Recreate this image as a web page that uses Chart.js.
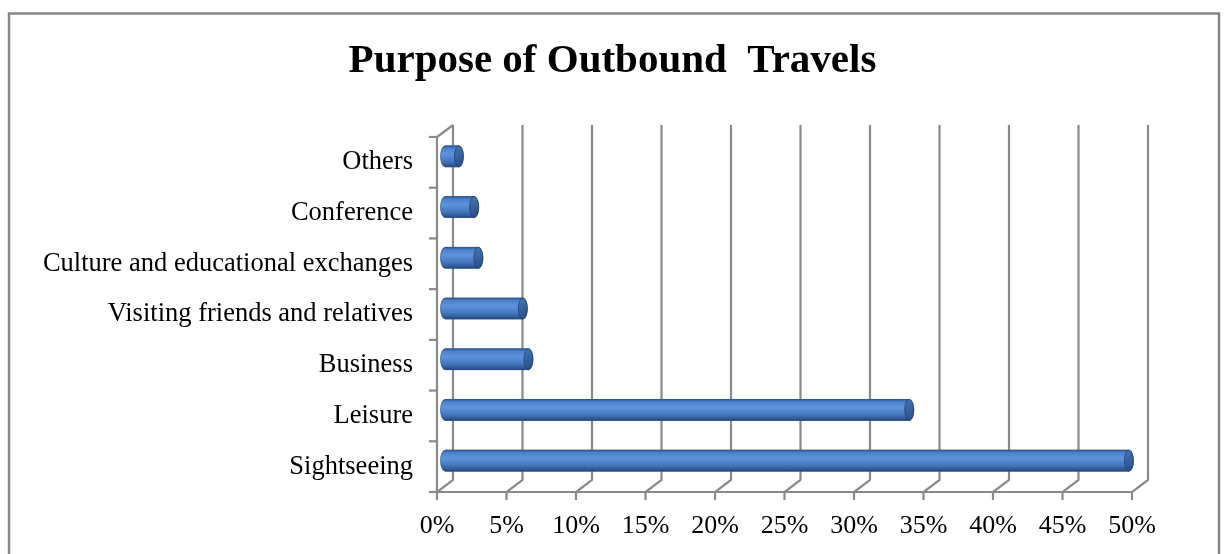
<!DOCTYPE html>
<html>
<head>
<meta charset="utf-8">
<title>Purpose of Outbound Travels</title>
<script src="https://cdn.jsdelivr.net/npm/chart.js@4.4.0/dist/chart.umd.min.js"></script>
<style>
  html, body { margin: 0; padding: 0; background: #fff; overflow: hidden; }
  #wrap { position: relative; width: 1225px; height: 554px; }
</style>
</head>
<body>
<div id="wrap"><canvas id="travelChart"></canvas></div>
<script>
// purposes, top to bottom, and their share of outbound trips (%)
const purposes = [
  "Others",
  "Conference",
  "Culture and educational exchanges",
  "Visiting friends and relatives",
  "Business",
  "Leisure",
  "Sightseeing"
];
const shares = [1.0, 2.1, 2.4, 5.6, 6.0, 33.4, 49.2];
const axisMax = 50;
const axisStep = 5;
const chartTitle = "Purpose of Outbound  Travels";

// half of the 3D depth: bars sit mid-depth, walls behind, axes in front
const DX = 8;
const DY = 6;
const LINE = "#8a8a8a";
const SERIF = "'Liberation Serif', 'Times New Roman', serif";

// white page, grey outer frame and the title centred on the whole frame
const framePlugin = {
  id: "frame",
  beforeDraw(chart) {
    const ctx = chart.ctx;
    ctx.save();
    ctx.fillStyle = "#fff";
    ctx.fillRect(0, 0, chart.width, chart.height);
    ctx.strokeStyle = "#868686";
    ctx.lineWidth = 2.5;
    ctx.strokeRect(9, 13.5, 1210, 600);
    ctx.fillStyle = "#000";
    ctx.font = "bold 41px " + SERIF;
    ctx.textAlign = "center";
    ctx.textBaseline = "middle";
    ctx.fillText(chartTitle, chart.width / 2, 61);
    ctx.restore();
  }
};

// back wall gridlines, floor edges and the front axes
const wallsPlugin = {
  id: "walls",
  beforeDatasetsDraw(chart) {
    const { ctx, chartArea: a, scales } = chart;
    const x = scales.x;
    const backTop = a.top - DY, backBottom = a.bottom - DY;
    const frontBottom = a.bottom + DY;
    ctx.save();
    ctx.strokeStyle = LINE;
    ctx.lineWidth = 2.2;
    ctx.lineCap = "butt";

    x.ticks.forEach(t => {
      const px = x.getPixelForValue(t.value);
      ctx.beginPath();
      ctx.moveTo(px + DX, backTop);
      ctx.lineTo(px + DX, backBottom);
      ctx.lineTo(px - DX, frontBottom);
      ctx.lineTo(px - DX, frontBottom + 8);
      ctx.stroke();
    });

    // front floor edge
    const x0 = x.getPixelForValue(0) - DX;
    const x1 = x.getPixelForValue(axisMax) - DX;
    ctx.beginPath();
    ctx.moveTo(x0, frontBottom);
    ctx.lineTo(x1, frontBottom);
    ctx.stroke();

    // left side edge with category ticks
    ctx.beginPath();
    ctx.moveTo(x0 + 2 * DX, a.top - DY);
    ctx.lineTo(x0, a.top + DY);
    ctx.lineTo(x0, frontBottom);
    ctx.stroke();
    const band = (a.bottom - a.top) / purposes.length;
    for (let i = 0; i <= purposes.length; i++) {
      const ty = a.top + DY + i * band;
      ctx.beginPath();
      ctx.moveTo(x0 - 8, ty);
      ctx.lineTo(x0, ty);
      ctx.stroke();
    }
    ctx.restore();
  },
  afterDatasetsDraw(chart) {
    const ctx = chart.ctx;
    const meta = chart.getDatasetMeta(0);
    meta.data.forEach(bar => {
      drawCylinder(ctx, bar.base, bar.x, bar.y, bar.height);
    });
  }
};

function drawCylinder(ctx, xs, xe, yc, h) {
  const ry = h / 2, rx = 4.5;
  const top = yc - ry;
  const body = ctx.createLinearGradient(0, top, 0, top + h);
  body.addColorStop(0, "#2f5a96");
  body.addColorStop(0.12, "#4b80cb");
  body.addColorStop(0.38, "#5f93dc");
  body.addColorStop(0.7, "#4679c0");
  body.addColorStop(0.9, "#325c9a");
  body.addColorStop(1, "#24467c");
  ctx.save();
  ctx.beginPath();
  ctx.ellipse(xs, yc, rx, ry, 0, Math.PI / 2, Math.PI * 1.5);
  ctx.lineTo(xe, top);
  ctx.ellipse(xe, yc, rx, ry, 0, -Math.PI / 2, Math.PI / 2);
  ctx.closePath();
  ctx.fillStyle = body;
  ctx.fill();
  ctx.strokeStyle = "rgba(40,72,120,0.6)";
  ctx.lineWidth = 1;
  ctx.stroke();

  const cap = ctx.createLinearGradient(xe - rx, top, xe + rx, top + h);
  cap.addColorStop(0, "#4476b8");
  cap.addColorStop(1, "#284c84");
  ctx.beginPath();
  ctx.ellipse(xe, yc, rx, ry, 0, 0, Math.PI * 2);
  ctx.fillStyle = cap;
  ctx.fill();
  ctx.strokeStyle = "rgba(30,60,105,0.7)";
  ctx.stroke();
  ctx.restore();
}

new Chart(document.getElementById("travelChart"), {
  type: "bar",
  data: {
    labels: purposes,
    datasets: [{
      label: "Share of trips",
      data: shares,
      backgroundColor: "#4f81bd",
      barThickness: 21
    }]
  },
  options: {
    indexAxis: "y",
    responsive: true,
    maintainAspectRatio: false,
    animation: false,
    layout: { padding: { top: 131, right: 85, bottom: 0, left: 0 } },
    scales: {
      x: {
        min: 0,
        max: axisMax,
        grid: { display: false },
        border: { display: false },
        ticks: {
          stepSize: axisStep,
          labelOffset: -DX,
          padding: 17,
          color: "#000",
          font: { family: SERIF, size: 26 },
          callback: v => v + "%"
        },
        afterFit(scale) { scale.height = 68; }
      },
      y: {
        grid: { display: false },
        border: { display: false },
        ticks: {
          labelOffset: DY,
          padding: 24,
          color: "#000",
          font: { family: SERIF, size: 26.5 }
        },
        afterFit(scale) { scale.width = 445; }
      }
    },
    plugins: {
      legend: { display: false },
      tooltip: { enabled: false },
      title: { display: false }
    }
  },
  plugins: [framePlugin, wallsPlugin]
});
</script>
</body>
</html>
